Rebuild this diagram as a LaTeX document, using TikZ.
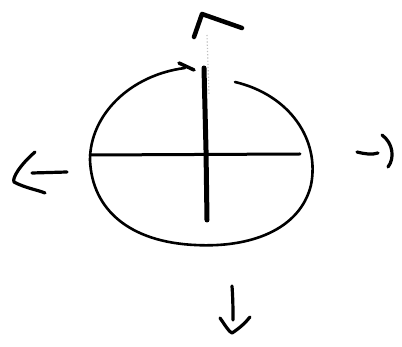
\documentclass[tikz,border=0pt]{standalone}
\begin{document}
\begin{tikzpicture}[x=1pt,y=-1pt,
  ink/.style={line width=3.2pt,line cap=round,line join=round,black},
  thin ink/.style={line width=2.6pt,line cap=round,line join=round,black}]
\useasboundingbox (0,0) rectangle (402,347);
% ellipse (with small gap at top)
\draw[thin ink] (235,82) .. controls (290,95) and (320,140) .. (311,185)
  .. controls (300,230) and (250,248) .. (195,245)
  .. controls (130,242) and (92,210) .. (90,160)
  .. controls (90,115) and (130,75) .. (185,68);
\draw[thin ink,line width=3.5pt] (179,63) -- (194,70);
% cross
\draw[thin ink,line width=3pt] (90,155) -- (300,154);
\draw[line width=5pt,line cap=round] (204,68) -- (206,150) -- (207,220);
% faint dotted line
\draw[gray!50,line width=1.2pt,dotted] (207,35) -- (209,95);
% top arrow head
\draw[ink,line width=4.5pt] (194,37) -- (202,14) -- (242,28);
% left arrow
\draw[ink] (35,152) .. controls (20,165) and (12,178) .. (14,182) .. controls (25,188) and (38,190) .. (45,193);
\draw[ink] (32,173) -- (67,172);
% right mark
\draw[ink] (357,152) .. controls (365,154) and (372,155) .. (378,153);
\draw[ink] (382,135) .. controls (393,143) and (395,158) .. (388,167);
% bottom arrow
\draw[ink] (232,286) .. controls (233,300) and (233,310) .. (233,320);
\draw[ink] (220,318) .. controls (225,325) and (229,332) .. (232,333) .. controls (240,328) and (246,322) .. (250,317);
\end{tikzpicture}
\end{document}
